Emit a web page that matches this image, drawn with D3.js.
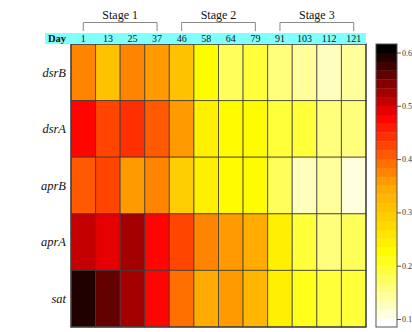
<!DOCTYPE html>
<html>
<head>
<meta charset="utf-8">
<script src="https://cdn.jsdelivr.net/npm/d3@7/dist/d3.min.js"></script>
<style>
  html, body { margin: 0; padding: 0; background: #fff; overflow: hidden; }
  svg { display: block; }
</style>
</head>
<body>
<svg id="chart" width="412" height="332"></svg>
<script>
// Sampling days (columns) and genes (rows)
const days = ["1", "13", "25", "37", "46", "58", "64", "79", "91", "103", "112", "121"];
const genes = ["dsrB", "dsrA", "aprB", "aprA", "sat"];

// Stage groupings: first and last day of each stage
const stages = ["Stage 1", "Stage 2", "Stage 3"];
const stageStart = ["1", "46", "91"];
const stageEnd = ["37", "79", "121"];

// Relative expression, one array per gene, in day order
const dsrB = [0.380, 0.311, 0.371, 0.356, 0.311, 0.218, 0.175, 0.186, 0.159, 0.143, 0.125, 0.143];
const dsrA = [0.471, 0.419, 0.438, 0.413, 0.355, 0.240, 0.228, 0.228, 0.186, 0.191, 0.159, 0.159];
const aprB = [0.406, 0.420, 0.366, 0.380, 0.287, 0.239, 0.228, 0.228, 0.175, 0.133, 0.143, 0.117];
const aprA = [0.515, 0.499, 0.531, 0.473, 0.425, 0.380, 0.361, 0.345, 0.239, 0.186, 0.159, 0.175];
const sat  = [0.583, 0.550, 0.531, 0.471, 0.393, 0.345, 0.356, 0.322, 0.239, 0.202, 0.186, 0.186];
const seriesByGene = { dsrB, dsrA, aprB, aprA, sat };

// Colour key range and tick labels
const keyDomain = [0.085, 0.616];
const keyTicks = [0.1, 0.2, 0.3, 0.4, 0.5, 0.6];
const nColors = 32;

const SERIF = "Liberation Serif";

const svg = d3.select("#chart").style("font-family", SERIF);

// Plot geometry
const plotL = 71, plotR = 366, plotT = 44, plotB = 327;

const x = d3.scaleBand().domain(days).range([plotL, plotR]);
const y = d3.scaleBand().domain(genes).range([plotT, plotB]);

// Discrete white -> yellow -> orange -> red -> black ramp
const ramp = d3.piecewise(d3.interpolateRgb, ["#ffffff", "#ffff00", "#ffa500", "#ff0000", "#000000"]);
const palette = d3.range(nColors).map(i => ramp(i / (nColors - 1)));
const color = d3.scaleQuantize().domain(keyDomain).range(palette);

// Cells
const cells = [];
genes.forEach(g => seriesByGene[g].forEach((v, i) => cells.push({ gene: g, day: days[i], value: v })));

svg.append("g").selectAll("rect").data(cells).join("rect")
  .attr("x", d => x(d.day))
  .attr("y", d => y(d.gene))
  .attr("width", x.bandwidth())
  .attr("height", y.bandwidth())
  .attr("fill", d => color(d.value))
  .attr("stroke", "#3a3a3a")
  .attr("stroke-opacity", 0.75)
  .attr("stroke-width", 1);

svg.append("rect")
  .attr("x", plotL).attr("y", plotT)
  .attr("width", plotR - plotL).attr("height", plotB - plotT)
  .attr("fill", "none").attr("stroke", "#444").attr("stroke-width", 1.4);

// Day header band
const bandTop = 33;
svg.append("rect")
  .attr("x", 45).attr("y", bandTop)
  .attr("width", plotR - 45).attr("height", plotT - bandTop)
  .attr("fill", "#80ffff");

svg.append("text")
  .attr("x", 48).attr("y", 42)
  .style("font-family", SERIF)
  .attr("font-size", 10.5).attr("font-weight", "bold")
  .attr("fill", "#111")
  .text("Day");

svg.append("g").selectAll("text").data(days).join("text")
  .attr("x", d => x(d) + x.bandwidth() / 2)
  .attr("y", 42)
  .style("font-family", SERIF)
  .attr("text-anchor", "middle")
  .attr("font-size", 10)
  .attr("fill", "#111")
  .text(d => d);

// Stage brackets
const cx = d => x(d) + x.bandwidth() / 2;
const brackets = svg.append("g");
stages.forEach((s, i) => {
  const x1 = cx(stageStart[i]), x2 = cx(stageEnd[i]);
  brackets.append("path")
    .attr("d", `M${x1},31V22.5H${x2}V31`)
    .attr("fill", "none")
    .attr("stroke", "#888")
    .attr("stroke-width", 1);
  brackets.append("text")
    .attr("x", (x1 + x2) / 2)
    .attr("y", 19)
    .style("font-family", SERIF)
    .attr("text-anchor", "middle")
    .attr("font-size", 12)
    .attr("fill", "#111")
    .text(s);
});

// Gene labels
svg.append("g").selectAll("text").data(genes).join("text")
  .attr("x", 66)
  .attr("y", d => y(d) + y.bandwidth() / 2)
  .attr("dy", "0.35em")
  .style("font-family", SERIF)
  .attr("text-anchor", "end")
  .attr("font-size", 12.5)
  .attr("font-style", "italic")
  .attr("fill", "#111")
  .text(d => d);

// Colour key
const keyX = 376, keyW = 21;
const keyY = d3.scaleLinear().domain(keyDomain).range([plotB, plotT]);
const step = (keyDomain[1] - keyDomain[0]) / nColors;
const keyBins = d3.range(nColors).map(i => keyDomain[0] + i * step);

svg.append("g").selectAll("rect").data(keyBins).join("rect")
  .attr("x", keyX)
  .attr("y", d => keyY(d + step))
  .attr("width", keyW)
  .attr("height", d => keyY(d) - keyY(d + step) + 0.3)
  .attr("fill", d => color(d + step / 2));

svg.append("rect")
  .attr("x", keyX).attr("y", plotT)
  .attr("width", keyW).attr("height", plotB - plotT)
  .attr("fill", "none").attr("stroke", "#555").attr("stroke-width", 1);

const keyAxis = svg.append("g")
  .attr("transform", `translate(${keyX + keyW},0)`)
  .call(d3.axisRight(keyY).tickValues(keyTicks).tickSize(4).tickPadding(1).tickFormat(d3.format(".1f")));
keyAxis.attr("font-family", null);
keyAxis.select(".domain").remove();
keyAxis.selectAll("line").attr("stroke", "#555");
keyAxis.selectAll("text")
  .style("font-family", SERIF)
  .attr("font-size", 8)
  .attr("fill", "#333");
</script>
</body>
</html>
